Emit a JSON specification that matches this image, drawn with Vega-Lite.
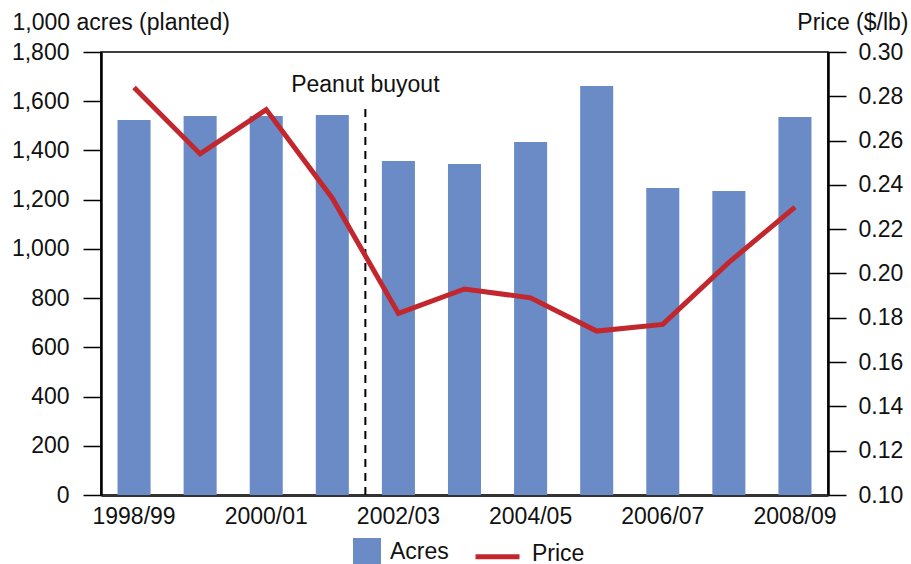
{
  "$schema": "https://vega.github.io/schema/vega-lite/v6.json",
  "autosize": "none",
  "width": 727,
  "height": 443,
  "padding": {"left": 101, "top": 52, "right": 83, "bottom": 69},
  "background": "white",
  "config": {
    "view": {"stroke": "#000000", "strokeWidth": 1.5},
    "font": "Liberation Sans",
    "axis": {"labelFont": "Liberation Sans", "titleFont": "Liberation Sans", "labelColor": "#111111", "titleColor": "#111111", "grid": false},
    "legend": {"labelFont": "Liberation Sans", "labelColor": "#111111", "padding": 0}
  },
  "data": {
    "values": [
      {"season": "1998/99", "acres": 1524, "price": 0.284},
      {"season": "1999/00", "acres": 1540, "price": 0.254},
      {"season": "2000/01", "acres": 1540, "price": 0.274},
      {"season": "2001/02", "acres": 1544, "price": 0.234},
      {"season": "2002/03", "acres": 1357, "price": 0.182},
      {"season": "2003/04", "acres": 1345, "price": 0.193},
      {"season": "2004/05", "acres": 1434, "price": 0.189},
      {"season": "2005/06", "acres": 1662, "price": 0.174},
      {"season": "2006/07", "acres": 1247, "price": 0.177},
      {"season": "2007/08", "acres": 1235, "price": 0.205},
      {"season": "2008/09", "acres": 1536, "price": 0.230}
    ]
  },
  "encoding": {
    "x": {
      "field": "season",
      "type": "nominal",
      "sort": null,
      "scale": {"type": "band", "paddingInner": 0.5, "paddingOuter": 0.25},
      "axis": {
        "title": null,
        "values": ["1998/99", "2000/01", "2002/03", "2004/05", "2006/07", "2008/09"],
        "labelAngle": 0,
        "labelFontSize": 23,
        "labelPadding": 10,
        "ticks": false,
        "domainColor": "#333333",
        "domainWidth": 3
      }
    }
  },
  "layer": [
    {
      "layer": [
        {
          "mark": {"type": "bar"},
          "encoding": {
            "y": {
              "field": "acres",
              "type": "quantitative",
              "scale": {"domain": [0, 1800], "nice": false},
              "axis": {
                "values": [0, 200, 400, 600, 800, 1000, 1200, 1400, 1600, 1800],
                "format": ",d",
                "title": "1,000 acres (planted)",
                "titleAngle": 0,
                "titleAlign": "left",
                "titleBaseline": "alphabetic",
                "titleX": -89,
                "titleY": -23,
                "titleFontSize": 23,
                "titleFontWeight": "normal",
                "labelFontSize": 23,
                "labelPadding": 14,
                "tickSize": 18,
                "tickWidth": 1.5,
                "tickColor": "#000000",
                "domainColor": "#000000",
                "domainWidth": 2.5
              }
            },
            "fill": {
              "datum": "Acres",
              "scale": {"range": ["#6b8bc7"]},
              "legend": {
                "title": null,
                "orient": "none",
                "legendX": 252,
                "legendY": 486,
                "symbolType": "square",
                "symbolSize": 784,
                "symbolStrokeWidth": 0,
                "labelFontSize": 23,
                "labelOffset": 9
              }
            }
          }
        },
        {
          "data": {"values": [{"season": "2001/02", "y0": 0, "y1": 1585}]},
          "mark": {"type": "rule", "color": "#000000", "strokeWidth": 2, "strokeDash": [8, 6]},
          "encoding": {
            "x": {"field": "season", "type": "nominal", "bandPosition": 1.5},
            "y": {"field": "y0", "type": "quantitative"},
            "y2": {"field": "y1"}
          }
        },
        {
          "data": {"values": [{"season": "2001/02", "label": "Peanut buyout", "y": 1637}]},
          "mark": {"type": "text", "fontSize": 23, "align": "center", "baseline": "alphabetic", "color": "#111111"},
          "encoding": {
            "x": {"field": "season", "type": "nominal", "bandPosition": 1.5},
            "y": {"field": "y", "type": "quantitative"},
            "text": {"field": "label"}
          }
        }
      ]
    },
    {
      "mark": {"type": "line", "strokeWidth": 5, "strokeJoin": "miter"},
      "encoding": {
        "y": {
          "field": "price",
          "type": "quantitative",
          "scale": {"domain": [0.1, 0.3], "nice": false, "zero": false},
          "axis": {
            "orient": "right",
            "values": [0.1, 0.12, 0.14, 0.16, 0.18, 0.2, 0.22, 0.24, 0.26, 0.28, 0.3],
            "format": ".2f",
            "title": "Price ($/lb)",
            "titleAngle": 0,
            "titleAlign": "right",
            "titleBaseline": "alphabetic",
            "titleX": 80,
            "titleY": -23,
            "titleFontSize": 23,
            "titleFontWeight": "normal",
            "labelFontSize": 23,
            "labelPadding": 12,
            "tickSize": 18,
            "tickWidth": 1.5,
            "tickColor": "#000000",
            "domainColor": "#000000",
            "domainWidth": 2.5
          }
        },
        "stroke": {
          "datum": "Price",
          "scale": {"range": ["#c1272d"]},
          "legend": {
            "title": null,
            "orient": "none",
            "legendX": 372,
            "legendY": 477,
            "symbolType": "M-1,0.15L1,0.15",
            "symbolSize": 1936,
            "symbolStrokeWidth": 5,
            "labelFontSize": 23,
            "labelOffset": 10
          }
        }
      }
    }
  ],
  "resolve": {"scale": {"y": "independent"}}
}
